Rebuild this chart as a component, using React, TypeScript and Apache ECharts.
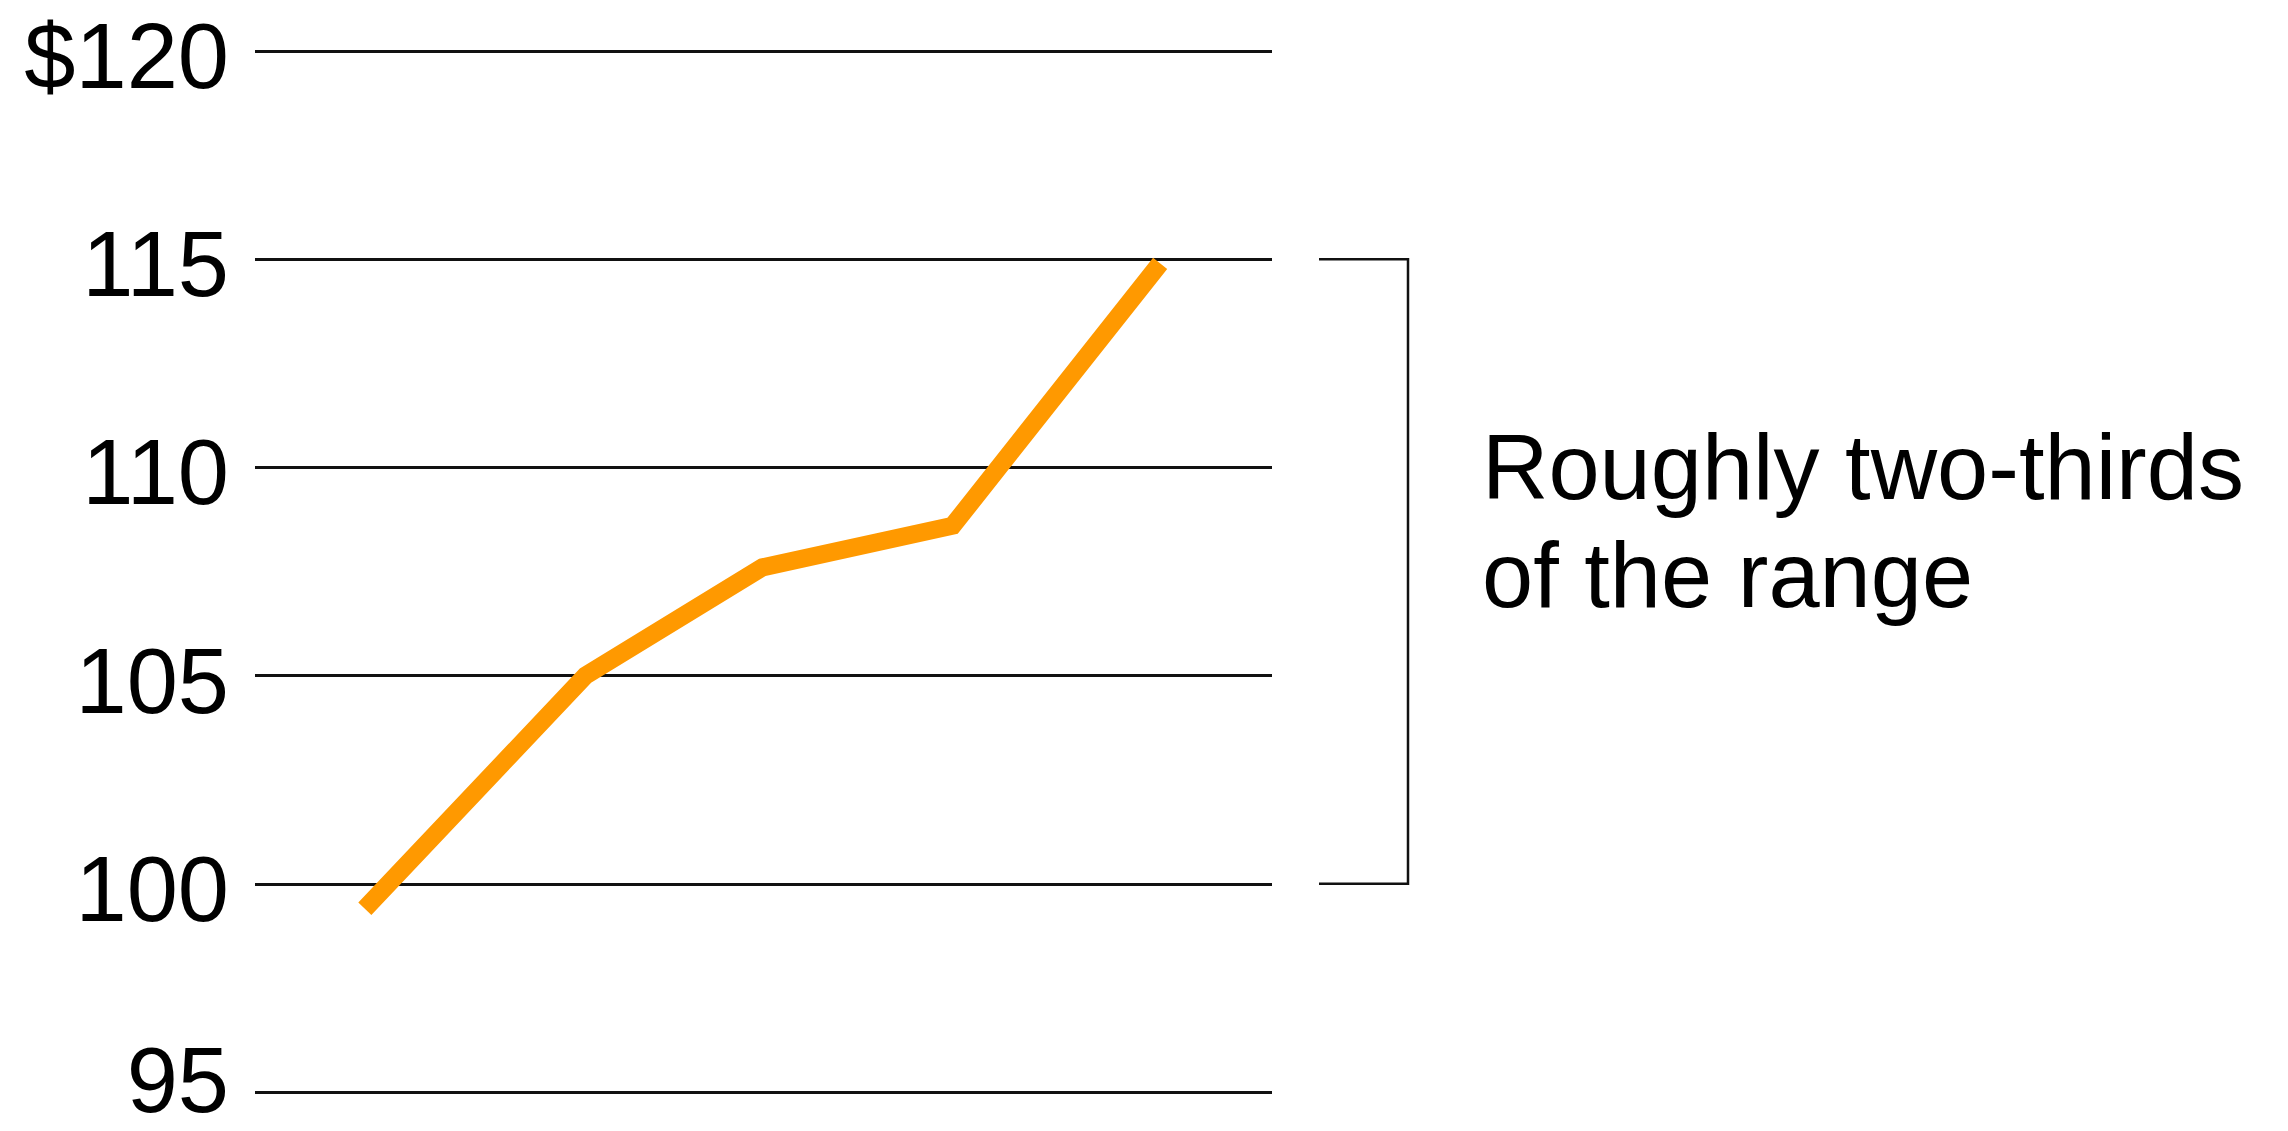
import React, { useEffect, useRef } from "react";
import * as echarts from "echarts";

// Data
const periods = [10.8, 32.5, 49.9, 68.6, 89.0];
const prices = [99.4, 105.0, 107.6, 108.6, 114.9];
const yMin = 95;
const yMax = 120;
const yInterval = 5;
const bracketFrom = 100;
const bracketTo = 115;
const annotationLines = ["Roughly two-thirds", "of the range"];

const FONT = "'Liberation Sans', Arial, Helvetica, sans-serif";

export default function App() {
  const ref = useRef<HTMLDivElement>(null);

  useEffect(() => {
    if (!ref.current) return;
    const chart = echarts.init(ref.current, null, { renderer: "svg" });
    const labelBase = { fontSize: 92, color: "#000000", fontFamily: FONT };
    chart.setOption({
      animation: false,
      backgroundColor: "#ffffff",
      grid: {
        left: 255,
        right: 1016,
        top: 51,
        bottom: 39,
        containLabel: false,
        outerBoundsMode: "none",
      },
      xAxis: {
        type: "value",
        min: 0,
        max: 100,
        show: false,
      },
      yAxis: {
        type: "value",
        min: yMin,
        max: yMax,
        interval: yInterval,
        axisLine: { show: false },
        axisTick: { show: false },
        splitLine: { show: true, lineStyle: { color: "#111111", width: 3 } },
        axisLabel: {
          margin: 26,
          ...labelBase,
          formatter: (v: number) =>
            v === yMin ? "{b|" + v + "}\n{b| }" : "{a|" + (v === yMax ? "$" + v : String(v)) + "}",
          rich: {
            a: { ...labelBase, padding: [10, 0, 0, 0] },
            b: { ...labelBase, lineHeight: 24 },
          },
        },
      },
      series: [
        {
          type: "line",
          data: periods.map((p, i) => [p, prices[i]]),
          symbol: "none",
          lineStyle: { color: "#FF9900", width: 18, cap: "butt", join: "miter" },
        },
      ],
    });

    const yTop = chart.convertToPixel({ yAxisIndex: 0 }, bracketTo) as number;
    const yBot = chart.convertToPixel({ yAxisIndex: 0 }, bracketFrom) as number;
    const yMid = chart.convertToPixel({ yAxisIndex: 0 }, 110) as number;
    const bx0 = 1319;
    const bx1 = 1408;
    const lineH = 108;
    chart.setOption({
      graphic: [
        {
          type: "polyline",
          shape: { points: [[bx0, yTop], [bx1, yTop], [bx1, yBot], [bx0, yBot]] },
          style: { stroke: "#111111", lineWidth: 2.5, fill: null },
          silent: true,
        },
        {
          type: "text",
          x: 1482,
          y: yMid - lineH / 2,
          style: {
            text: annotationLines.join("\n"),
            fontSize: 92,
            lineHeight: lineH,
            fontFamily: FONT,
            fill: "#000000",
            verticalAlign: "top",
            align: "left",
          },
          silent: true,
        },
      ],
    });

    return () => chart.dispose();
  }, []);

  return (
    <div
      ref={ref}
      style={{ position: "fixed", left: 0, top: 0, width: 2288, height: 1131, background: "#fff" }}
    />
  );
}
